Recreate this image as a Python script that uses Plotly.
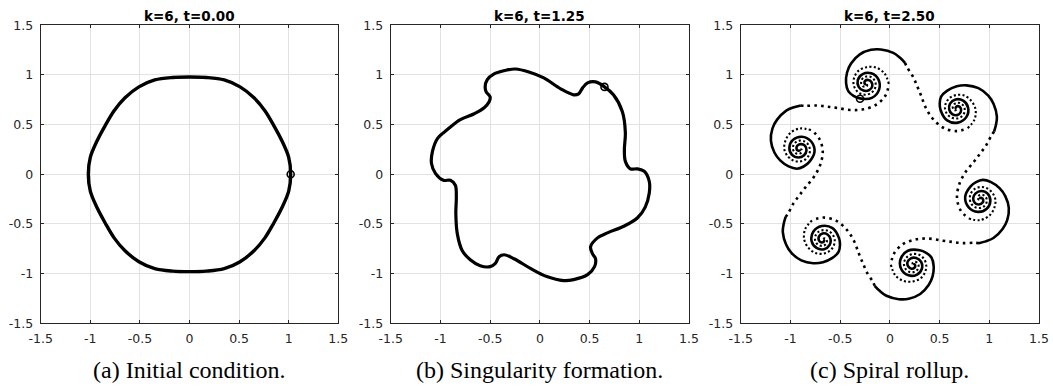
import numpy as np
import plotly.graph_objects as go

# ---------------- data ----------------
tick_vals = [-1.5, -1, -0.5, 0, 0.5, 1, 1.5]
tick_text = ["-1.5", "-1", "-0.5", "0", "0.5", "1", "1.5"]

titles = ["k=6, t=0.00", "k=6, t=1.25", "k=6, t=2.50"]
captions = ["(a) Initial condition.", "(b) Singularity formation.", "(c) Spiral rollup."]

# (a) initial interface
a_x = [1.02, 1.00, 0.93, 0.85, 0.76, 0.65, 0.51, 0.35, 0.17, 0.00, -0.17, -0.35, -0.51,
       -0.65, -0.76, -0.85, -0.93, -1.00, -1.02, -1.00, -0.93, -0.85, -0.76, -0.65, -0.51,
       -0.35, -0.17, 0.00, 0.17, 0.35, 0.51, 0.65, 0.76, 0.85, 0.93, 1.00, 1.02]
a_y = [0.00, 0.17, 0.34, 0.49, 0.64, 0.77, 0.88, 0.95, 0.975, 0.98, 0.975, 0.95, 0.88,
       0.77, 0.64, 0.49, 0.34, 0.17, 0.00, -0.17, -0.34, -0.49, -0.64, -0.77, -0.88,
       -0.95, -0.975, -0.98, -0.975, -0.95, -0.88, -0.77, -0.64, -0.49, -0.34, -0.17, 0.00]
a_marker = [1.02, 0.0]

# (b) interface at singularity formation
b_x = [0.65, 0.74, 0.83, 0.86, 0.85, 0.86, 0.91, 0.98, 1.05, 1.10, 1.10, 1.06, 0.98, 0.85,
       0.68, 0.58, 0.51, 0.53, 0.56, 0.55, 0.48, 0.34, 0.24, 0.07, -0.09, -0.26, -0.36,
       -0.41, -0.45, -0.50, -0.60, -0.70, -0.78, -0.83, -0.845, -0.84, -0.85, -0.90, -0.97,
       -1.05, -1.09, -1.08, -1.03, -0.93, -0.80, -0.66, -0.56, -0.51, -0.50, -0.54, -0.55,
       -0.53, -0.46, -0.33, -0.245, -0.11, 0.04, 0.21, 0.34, 0.39, 0.43, 0.48, 0.56, 0.65]
b_y = [0.88, 0.80, 0.63, 0.42, 0.245, 0.13, 0.055, 0.055, 0.03, -0.07, -0.19, -0.33, -0.44,
       -0.52, -0.59, -0.64, -0.73, -0.80, -0.85, -0.93, -1.01, -1.06, -1.07, -1.03, -0.95,
       -0.85, -0.81, -0.83, -0.90, -0.93, -0.92, -0.86, -0.77, -0.60, -0.40, -0.22, -0.11,
       -0.06, -0.06, 0.01, 0.11, 0.23, 0.36, 0.45, 0.55, 0.61, 0.67, 0.73, 0.78, 0.83, 0.88,
       0.95, 1.01, 1.05, 1.06, 1.03, 0.97, 0.86, 0.80, 0.81, 0.87, 0.92, 0.93, 0.88]
b_marker = [0.65, 0.88]

# (c) spiral rollup: six vortex centres (polar, about the origin)
c_center_r = [0.94, 0.94, 0.94, 0.94, 0.94, 0.94]
c_center_deg = [104.5, 44.5, -15.5, -75.5, -135.5, 164.5]
# outgoing densely-sampled arm, offsets from the top-left vortex centre
c_dense_dx = [0.0, -0.010, -0.020, -0.012, 0.018, 0.050, 0.058, 0.024, -0.030, -0.078,
              -0.087, -0.038, 0.048, 0.120, 0.127, 0.054, -0.065, -0.13, -0.183, -0.205,
              -0.195, -0.155, -0.07, 0.045, 0.145, 0.27, 0.338, 0.388]
c_dense_dy = [0.0, -0.004, 0.009, 0.031, 0.040, 0.019, -0.026, -0.064, -0.067, -0.030,
              0.039, 0.099, 0.107, 0.046, -0.057, -0.140, -0.146, -0.12, -0.073, 0.011,
              0.115, 0.205, 0.295, 0.343, 0.347, 0.313, 0.263, 0.212]
# incoming sparsely-sampled arm (bridge + inner winding), same frame
c_dot_dx = [-0.661, -0.615, -0.501, -0.40, -0.30, -0.165, -0.032, 0.103, 0.195, 0.225, 0.182,
            0.095, 0.0, -0.078, -0.121, -0.13, -0.106, -0.058, 0.0, 0.051, 0.084, 0.093, 0.076,
            0.041, 0.0, -0.034, -0.052, -0.052, -0.037, -0.017, 0.0, 0.0075, 0.0]
c_dot_dy = [-0.217, -0.221, -0.217, -0.228, -0.241, -0.262, -0.256, -0.207, -0.11, 0.0, 0.105,
            0.165, 0.168, 0.134, 0.070, 0.0, -0.061, -0.100, -0.108, -0.088, -0.0485, 0.0,
            0.044, 0.071, 0.075, 0.059, 0.030, 0.0, -0.022, -0.029, -0.025, -0.013, 0.0]
c_bridge_end = 9
c_marker = [-0.30, 0.76]

# ---------------- figure ----------------
W, H = 1053, 387
x_px = [(40.7, 338.3), (390.7, 689.0), (740.7, 1039.0)]
y_px = (25.3, 323.3)
ydom = [(H - y_px[1]) / H, (H - y_px[0]) / H]

fig = go.Figure()
INK = "#000000"


def add_line(i, x, y, width, dash="solid", smooth=1.0):
    ax = "" if i == 0 else str(i + 1)
    fig.add_trace(go.Scatter(x=x, y=y, mode="lines", xaxis="x" + ax, yaxis="y" + ax,
                             line=dict(color=INK, width=width, dash=dash, shape="spline",
                                       smoothing=smooth),
                             hoverinfo="skip", showlegend=False))


def add_marker(i, pt):
    ax = "" if i == 0 else str(i + 1)
    fig.add_trace(go.Scatter(x=[pt[0]], y=[pt[1]], mode="markers", xaxis="x" + ax,
                             yaxis="y" + ax,
                             marker=dict(symbol="circle-open", size=7, color=INK,
                                         line=dict(width=1.6, color=INK)),
                             hoverinfo="skip", showlegend=False))


add_line(0, a_x, a_y, 3.4)
add_marker(0, a_marker)
add_line(1, b_x, b_y, 3.2)
add_marker(1, b_marker)

for k in range(6):
    th = np.deg2rad(c_center_deg[k])
    cx, cy = c_center_r[k] * np.cos(th), c_center_r[k] * np.sin(th)
    rot = np.deg2rad(c_center_deg[k] - c_center_deg[0])
    cr, sr = np.cos(rot), np.sin(rot)
    ddx, ddy = np.array(c_dense_dx), np.array(c_dense_dy)
    pdx, pdy = np.array(c_dot_dx), np.array(c_dot_dy)
    dxs, dys = cx + cr * ddx - sr * ddy, cy + sr * ddx + cr * ddy
    pxs, pys = cx + cr * pdx - sr * pdy, cy + sr * pdx + cr * pdy
    add_line(2, dxs, dys, 2.6)
    add_line(2, pxs[:c_bridge_end + 1], pys[:c_bridge_end + 1], 2.6, dash="2.6px,4.2px")
    add_line(2, pxs[c_bridge_end:], pys[c_bridge_end:], 2.1, dash="2.1px,2.3px")
add_marker(2, c_marker)

axis_common = dict(range=[-1.5, 1.5], tickmode="array", tickvals=tick_vals, ticktext=tick_text,
                   showgrid=True, gridcolor="#e2e2e2", gridwidth=1, zeroline=False,
                   showline=True, linecolor="#262626", linewidth=1, mirror="ticks",
                   ticks="inside", ticklen=3, tickwidth=1, tickcolor="#262626",
                   tickfont=dict(family="DejaVu Sans", size=12.5, color="#262626"),
                   ticklabelstandoff=4, fixedrange=True, automargin=False)

layout = dict(width=W, height=H, autosize=False,
              margin=dict(l=0, r=0, t=0, b=0, pad=0, autoexpand=False),
              paper_bgcolor="white", plot_bgcolor="white", showlegend=False)
annotations = []
for i in range(3):
    ax = "" if i == 0 else str(i + 1)
    xd = [x_px[i][0] / W, x_px[i][1] / W]
    layout["xaxis" + ax] = dict(axis_common, domain=xd, anchor="y" + ax)
    layout["yaxis" + ax] = dict(axis_common, domain=ydom, anchor="x" + ax)
    xc = (xd[0] + xd[1]) / 2
    annotations.append(dict(text="<b>" + titles[i] + "</b>", x=xc, y=(H - 16.5) / H,
                            xref="paper", yref="paper", showarrow=False, xanchor="center",
                            yanchor="middle",
                            font=dict(family="DejaVu Sans", size=13.5, color="#000000")))
    annotations.append(dict(text=captions[i], x=xc, y=(H - 370) / H, xref="paper",
                            yref="paper", showarrow=False, xanchor="center", yanchor="middle",
                            font=dict(family="Liberation Serif", size=24, color="#000000")))
layout["annotations"] = annotations
fig.update_layout(**layout)

fig.write_html("out.html", config={"responsive": False, "displayModeBar": False},
               post_script="document.body.style.margin='0px';"
                           "document.body.style.overflow='hidden';")
